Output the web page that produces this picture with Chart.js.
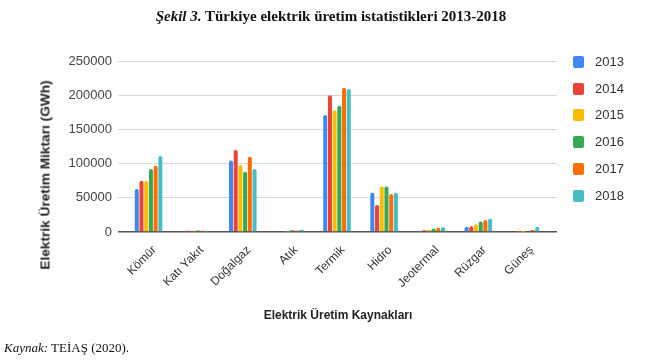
<!DOCTYPE html>
<html>
<head>
<meta charset="utf-8">
<script src="https://cdn.jsdelivr.net/npm/chart.js@4.4.1/dist/chart.umd.min.js"></script>
<style>
  html, body { margin:0; padding:0; background:#fff; }
  #wrap { position:relative; width:650px; height:360px; overflow:hidden; }
  #c { position:absolute; left:0; top:0; }
  .title { position:absolute; left:6px; width:650px; top:8px; text-align:center; font-family:"Liberation Serif","Times New Roman",serif; font-size:15px; font-weight:bold; color:#111; }
  .ytitle { position:absolute; left:45px; top:175px; transform:translate(-50%,-50%) rotate(-90deg); white-space:nowrap; font-family:"Liberation Sans",Arial,sans-serif; font-size:13.7px; font-weight:bold; color:#222; }
  .xtitle { position:absolute; left:338px; top:308px; transform:translateX(-50%); white-space:nowrap; font-family:"Liberation Sans",Arial,sans-serif; font-size:12px; font-weight:bold; color:#222; }
  .src { position:absolute; left:4px; top:340px; font-family:"Liberation Serif","Times New Roman",serif; font-size:13px; color:#111; }
  .legend { position:absolute; left:573px; top:0; font-family:"Liberation Sans",Arial,sans-serif; font-size:13px; color:#333; }
  .li { position:absolute; left:0; white-space:nowrap; height:14px; line-height:14px; }
  .sw { display:inline-block; width:11px; height:12px; border-radius:2px; vertical-align:middle; margin-right:11px; position:relative; top:-1px; }
</style>
</head>
<body>
<div id="wrap">
  <canvas id="c" width="650" height="360"></canvas>
  <div class="title"><i>Şekil 3.</i> Türkiye elektrik üretim istatistikleri 2013-2018</div>
  <div class="ytitle">Elektrik Üretim Miktarı (GWh)</div>
  <div class="xtitle">Elektrik Üretim Kaynakları</div>
  <div class="src"><i>Kaynak:</i> TEİAŞ (2020).</div>
  <div class="legend" id="legend"></div>
</div>
<script>
const categories = ["Kömür","Katı Yakıt","Doğalgaz","Atık","Termik","Hidro","Jeotermal","Rüzgar","Güneş"];
const years = ["2013","2014","2015","2016","2017","2018"];
const y2013 = [63000, 1200, 104500, 1100, 171000, 57500, 1400, 7500, 0];
const y2014 = [75000, 2000, 120000, 1200, 200000, 39500, 2400, 8500, 20];
const y2015 = [75000, 1800, 98000, 1600, 178000, 66500, 3400, 11500, 200];
const y2016 = [92000, 2300, 88000, 2400, 184500, 66500, 4800, 15500, 1000];
const y2017 = [96700, 1700, 110000, 2300, 211000, 55500, 6100, 17500, 2900];
const y2018 = [111000, 1500, 92000, 3300, 209000, 57500, 7400, 19500, 7500];
const seriesValues = [y2013, y2014, y2015, y2016, y2017, y2018];
const colors = ["#4285F4","#EA4335","#FBBC04","#34A853","#FF6D01","#46BDC6"];
const yTicks = [0, 50000, 100000, 150000, 200000, 250000];

const datasets = years.map((y, i) => ({
  label: y,
  data: seriesValues[i],
  backgroundColor: colors[i],
  borderRadius: {topLeft: 2, topRight: 2},
  borderSkipped: 'bottom',
  categoryPercentage: 0.6,
  barPercentage: 0.85
}));

const gridCol = ctx => ctx.tick && ctx.tick.value === 0 ? '#555' : '#d6d6d6';
const gridW = ctx => ctx.tick && ctx.tick.value === 0 ? 1.5 : 1;

new Chart(document.getElementById('c'), {
  type: 'bar',
  data: { labels: categories, datasets },
  options: {
    responsive: false,
    animation: false,
    devicePixelRatio: 1,
    layout: { padding: { left: 0, right: 0, top: 61, bottom: 0 } },
    plugins: { legend: { display: false }, tooltip: { enabled: false } },
    scales: {
      x: {
        grid: { display: false },
        border: { display: false },
        ticks: {
          minRotation: 45, maxRotation: 45, autoSkip: false,
          color: '#333', padding: 3, labelOffset: 6,
          font: { family: '"Liberation Sans", Arial, sans-serif', size: 12 }
        },
        afterFit(scale) { scale.height = 128; }
      },
      y: {
        min: 0, max: 250000,
        afterBuildTicks(scale) { scale.ticks = yTicks.map(v => ({ value: v })); },
        grid: {
          color: gridCol, lineWidth: gridW,
          drawTicks: true, tickLength: 7, tickColor: gridCol
        },
        border: { display: false },
        ticks: {
          color: '#444', padding: 6,
          font: { family: '"Liberation Sans", Arial, sans-serif', size: 13 },
          callback: v => String(v)
        },
        afterFit(scale) { scale.width = 125; }
      },
      yRight: {
        position: 'right',
        min: 0, max: 250000,
        afterBuildTicks(scale) { scale.ticks = yTicks.map(v => ({ value: v })); },
        grid: {
          drawOnChartArea: false, color: gridCol, lineWidth: gridW,
          drawTicks: true, tickLength: 8, tickColor: gridCol
        },
        border: { display: false },
        ticks: { display: false },
        afterFit(scale) { scale.width = 101; }
      }
    }
  }
});

const legend = document.getElementById('legend');
const legendTops = [55, 82, 108, 135, 162, 189];
years.forEach((y, i) => {
  const d = document.createElement('div');
  d.className = 'li';
  d.style.top = legendTops[i] + 'px';
  d.innerHTML = '<span class="sw" style="background:' + colors[i] + '"></span>' + y;
  legend.appendChild(d);
});
</script>
</body>
</html>
